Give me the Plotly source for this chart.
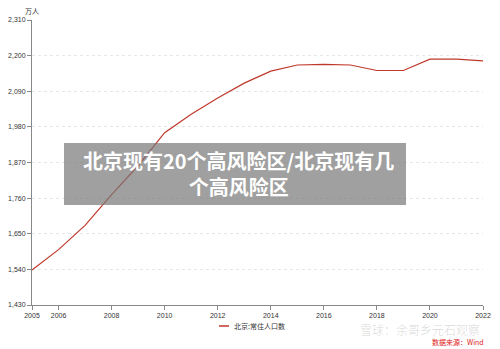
import plotly.graph_objects as go

years = list(range(2005, 2023))
population = [1538, 1601, 1676, 1771, 1860, 1962, 2019, 2069, 2115, 2152,
              2171, 2173, 2171, 2154, 2154, 2189, 2189, 2184]
series_name = "北京:常住人口数"
x_ticks = [2005, 2006, 2008, 2010, 2012, 2014, 2016, 2018, 2020, 2022]
y_ticks = [1430, 1540, 1650, 1760, 1870, 1980, 2090, 2200, 2310]
y_unit = "万人"
title_lines = ["北京现有20个高风险区/北京现有几", "个高风险区"]
source_text = "数据来源：Wind"
watermark = "雪球：余哥乡元石观察"

W, H = 500, 349
L, R, T, B = 32, 17, 20, 44
pw, ph = W - L - R, H - T - B

def px(x):
    return (x - L) / pw

def py(y):
    return (H - B - y) / ph

font = "Liberation Sans, Arial, sans-serif"
cjk = "Noto Sans CJK SC"
line_color = "#c0392b"

fig = go.Figure()
fig.add_trace(go.Scatter(
    x=years, y=population, mode="lines", name=series_name,
    line=dict(color=line_color, width=1.2), showlegend=False,
))

fig.update_layout(
    width=W, height=H, margin=dict(l=L, r=R, t=T, b=B, autoexpand=False),
    paper_bgcolor="white", plot_bgcolor="white",
    font=dict(family=font, size=7, color="#333"),
    showlegend=False,
    xaxis=dict(range=[2005, 2022], tickvals=x_ticks, ticktext=[str(t) for t in x_ticks],
               showgrid=False, zeroline=False, showline=True, linecolor="#888", linewidth=1,
               ticks="outside", ticklen=4, tickcolor="#888",
               tickfont=dict(size=7, color="#333")),
    yaxis=dict(range=[1430, 2310], tickvals=y_ticks, tickformat=",",
               showgrid=True, gridcolor="#e6e6e6", griddash="dot", gridwidth=1,
               zeroline=False, showline=True, linecolor="#888", linewidth=1,
               ticks="outside", ticklen=4, tickcolor="#888",
               tickfont=dict(size=7, color="#333")),
)

fig.add_annotation(text=y_unit, xref="paper", yref="paper", x=px(32), y=py(11),
                   showarrow=False, font=dict(family=cjk, size=7, color="#333"),
                   xanchor="center", yanchor="middle")

# legend (manual)
fig.add_shape(type="line", xref="paper", yref="paper",
              x0=px(219), x1=px(229), y0=py(326), y1=py(326),
              line=dict(color=line_color, width=1.5))
fig.add_annotation(text=series_name, xref="paper", yref="paper", x=px(232), y=py(326),
                   showarrow=False, font=dict(family=cjk, size=7, color="#333"),
                   xanchor="left", yanchor="middle")

# overlay box
fig.add_shape(type="rect", xref="paper", yref="paper",
              x0=px(64), x1=px(406), y0=py(205), y1=py(143),
              fillcolor="rgba(120,120,120,0.7)", line=dict(width=0), layer="above")
fig.add_annotation(text="<br>".join("<b>" + t + "</b>" for t in title_lines),
                   xref="paper", yref="paper", x=px(238), y=py(173), showarrow=False,
                   font=dict(family=cjk, size=20, color="white"), align="center",
                   xanchor="center", yanchor="middle")

fig.add_annotation(text=watermark, xref="paper", yref="paper", x=px(482), y=py(329),
                   showarrow=False, font=dict(family=cjk, size=12, color="rgba(0,0,0,0.13)"),
                   xanchor="right", yanchor="middle")
fig.add_annotation(text=source_text, xref="paper", yref="paper", x=px(486), y=py(342),
                   showarrow=False, font=dict(family=cjk, size=7, color="#e02020"),
                   xanchor="right", yanchor="middle")

fig.write_html("out.html")
